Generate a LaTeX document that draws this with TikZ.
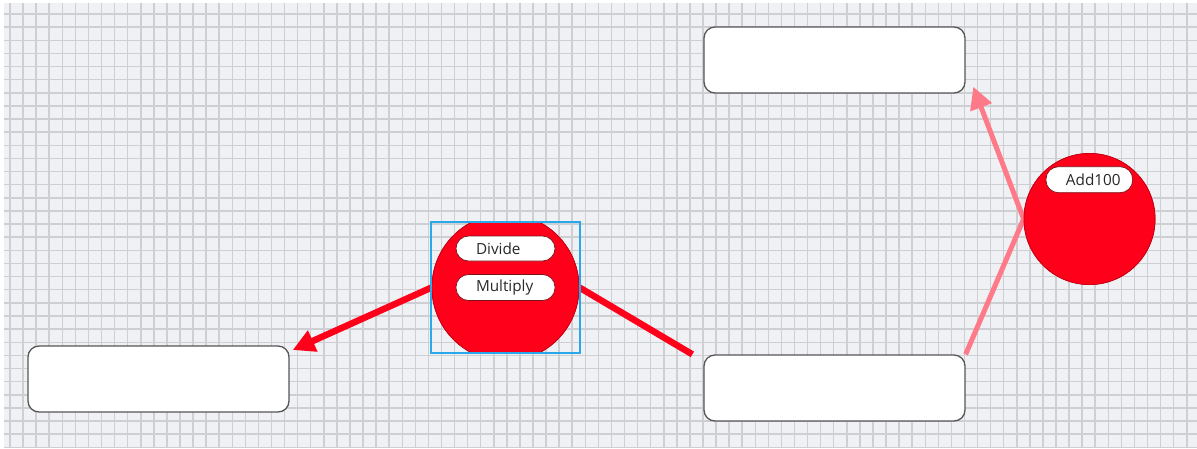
\documentclass[tikz,border=0pt]{standalone}
\usepackage{fontspec}
\setmainfont{Open Sans}
\usetikzlibrary{arrows.meta,calc}
\definecolor{bg}{RGB}{240,241,244}
\definecolor{gridc}{RGB}{206,207,211}
\definecolor{fred}{RGB}{255,0,26}
\definecolor{fredd}{RGB}{200,0,20}
\definecolor{pilledge}{RGB}{120,20,25}
\definecolor{pinkl}{RGB}{255,122,137}
\definecolor{boxb}{RGB}{85,85,85}
\definecolor{selb}{RGB}{41,168,234}
\definecolor{txt}{RGB}{40,40,40}
\begin{document}
\begin{tikzpicture}[x=1pt,y=-1pt,
  box/.style={draw=boxb,line width=1.3pt,fill=white,rounded corners=11pt,minimum width=261pt,minimum height=66pt,inner sep=0pt},
  fn/.style={circle,fill=fred,draw=fredd,line width=0.8pt,inner sep=0pt},
  pill/.style={draw=pilledge,line width=0.7pt,fill=white,rounded corners=12.5pt,minimum height=25pt,inner xsep=0pt,inner ysep=0pt,align=left,text=txt,font=\fontsize{15.3}{18}\selectfont},
  redline/.style={draw=fred,line width=6.5pt},
  pinkline/.style={draw=pinkl,line width=5pt},
  tip/.style={-{Triangle[length=22pt,width=22pt]}}
]
\useasboundingbox (0,0) rectangle (1197,448);
\fill[white] (0,0) rectangle (1197,448);
\fill[bg] (4,3) rectangle (1197,448);
\foreach \i in {0,...,90} {
  \pgfmathsetmacro{\xx}{10+\i*13.075}
  \draw[gridc,line width=1.5pt] (\xx,3) -- (\xx,448);
}
\foreach \j in {0,...,33} {
  \pgfmathsetmacro{\yy}{14+\j*13.13}
  \draw[gridc,line width=1.5pt] (4,\yy) -- (1197,\yy);
}
% boxes
\node[box] (lbox) at (158.5,379) {};
\node[box] (tbox) at (834.5,60) {};
\node[box] (bbox) at (834.5,388) {};
% function circles
\begin{scope}
  \clip (431,222) rectangle (580,353);
  \node[fn,minimum size=147pt] (mul) at (505.5,287.5) {};
\end{scope}
\node[fn,minimum size=131pt] (add) at (1089.5,219) {};
% connectors
\coordinate (bend) at ($(bbox.north west)+(-11,0)$);
\coordinate (ltip) at (292.7,350);
\coordinate (ttip) at (973.3,86.7);
\draw[redline] (bend) -- (mul.east);
\draw[redline,tip] (mul.west) -- (ltip);
\draw[pinkline,tip] (bbox.north east) -- (add.west) -- (ttip);
% redraw circles above lines
\begin{scope}
  \clip (431,222) rectangle (580,353);
  \node[fn,minimum size=147pt] (mul2) at (505.5,287.5) {};
\end{scope}
\node[fn,minimum size=131pt] (add2) at (1089.5,219) {};
% pills
\node[pill,text width=99pt] (divp) at (505.5,248.5) {\hspace*{20pt}Divide};
\node[pill,text width=99pt,minimum height=26pt] (mulp) at (505.5,287.5) {\hspace*{20pt}Multiply};
\node[pill,text width=86.7pt,minimum height=26pt] (addp) at (1089.3,179.7) {\hspace*{20pt}Add100};
% selection frame
\node[draw=selb,line width=2pt,minimum width=149pt,minimum height=131pt,inner sep=0pt] (sel) at (505.5,287.5) {};
\end{tikzpicture}
\end{document}
